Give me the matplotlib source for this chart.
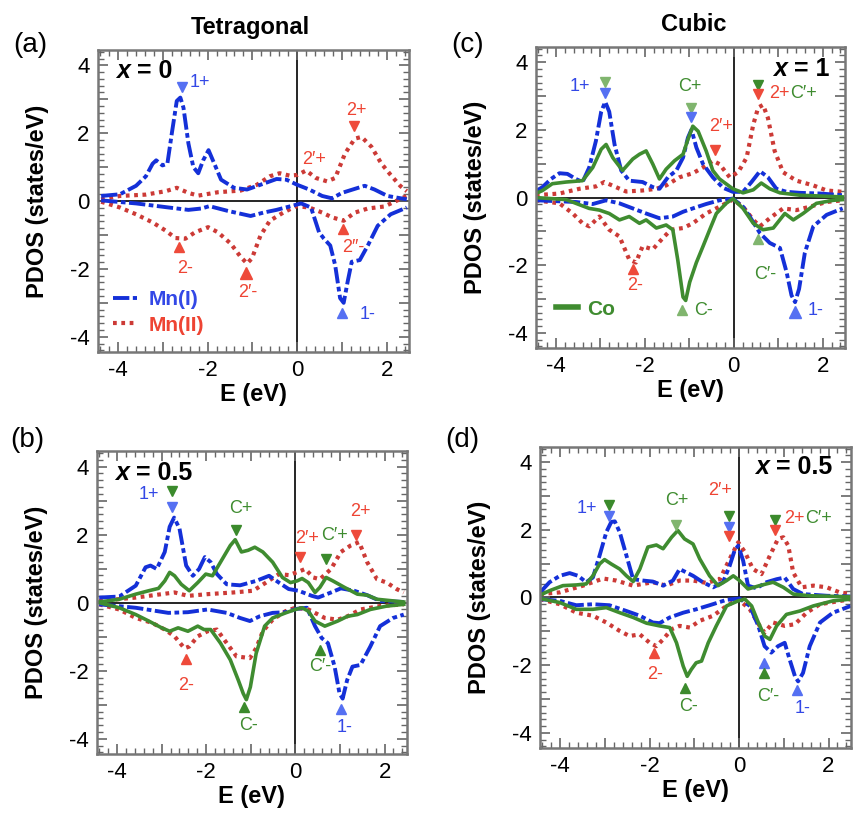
import numpy as np
import matplotlib.pyplot as plt
from matplotlib.lines import Line2D
from matplotlib.ticker import MultipleLocator, FuncFormatter

plt.rcParams['font.family'] = ['Liberation Sans', 'DejaVu Sans']
plt.rcParams['axes.unicode_minus'] = False

# ---- data: (E in eV, PDOS) ----
# panel (a) tetragonal x = 0
a_mn1_up = [(-4.38, 0.15), (-3.96, 0.2), (-3.6, 0.45), (-3.38, 0.73), (-3.23, 1.1), (-3.15, 1.2),
            (-3.01, 1.05), (-2.9, 1.1), (-2.8, 2.0), (-2.69, 2.95), (-2.61, 3.05), (-2.54, 2.75),
            (-2.43, 1.7), (-2.32, 1.0), (-2.21, 0.82), (-2.1, 1.2), (-1.98, 1.5), (-1.85, 1.1),
            (-1.7, 0.63), (-1.41, 0.39), (-1.12, 0.34), (-0.82, 0.48), (-0.46, 0.65), (-0.24, 0.63),
            (0.0, 0.48), (0.27, 0.34), (0.56, 0.15), (0.78, 0.08), (1.0, 0.24), (1.29, 0.36),
            (1.51, 0.45), (1.73, 0.34), (2.02, 0.15), (2.45, 0.05)]
a_mn1_dn = [(-4.38, 0.02), (-3.6, -0.07), (-2.87, -0.19), (-2.43, -0.26), (-2.14, -0.22), (-1.96, -0.15),
            (-1.55, -0.29), (-1.04, -0.44), (-0.75, -0.34), (-0.46, -0.26), (-0.17, -0.16), (0.09, -0.07),
            (0.31, -0.19), (0.49, -0.92), (0.6, -1.11), (0.74, -1.31), (0.85, -1.89), (0.96, -2.86),
            (1.04, -3.0), (1.13, -2.37), (1.22, -1.79), (1.4, -1.74), (1.58, -1.31), (1.8, -0.73),
            (2.09, -0.39), (2.45, -0.19)]
a_mn2_up = [(-4.38, 0.05), (-3.96, 0.15), (-3.38, 0.19), (-2.94, 0.29), (-2.69, 0.39), (-2.43, 0.24),
            (-2.21, 0.16), (-1.77, 0.26), (-1.26, 0.31), (-0.9, 0.48), (-0.61, 0.73), (-0.39, 0.82),
            (-0.17, 0.75), (0.01, 0.77), (0.2, 0.9), (0.42, 0.68), (0.67, 0.58), (0.85, 0.68),
            (1.07, 1.4), (1.29, 1.84), (1.44, 1.89), (1.66, 1.6), (1.88, 1.11), (2.09, 0.77),
            (2.31, 0.44), (2.45, 0.29)]
a_mn2_dn = [(-4.38, -0.02), (-3.96, -0.19), (-3.6, -0.39), (-3.23, -0.63), (-2.94, -0.87), (-2.72, -1.09),
            (-2.5, -1.11), (-2.28, -0.92), (-1.99, -0.77), (-1.77, -0.92), (-1.48, -1.26), (-1.26, -1.65),
            (-1.12, -1.84), (-1.01, -1.69), (-0.82, -1.02), (-0.61, -0.58), (-0.31, -0.34), (-0.02, -0.15),
            (0.27, -0.19), (0.56, -0.34), (0.78, -0.48), (1.04, -0.58), (1.29, -0.34), (1.58, -0.22),
            (1.95, -0.16), (2.45, 0.15)]

# panel (b) tetragonal x = 0.5
b_mn1_up = [(-4.4, 0.15), (-3.95, 0.18), (-3.58, 0.5), (-3.36, 1.04), (-3.25, 1.09), (-3.11, 0.99),
            (-2.93, 1.49), (-2.82, 2.23), (-2.72, 2.5), (-2.6, 2.18), (-2.45, 1.09), (-2.3, 0.79),
            (-2.16, 0.99), (-2.03, 1.34), (-1.9, 1.19), (-1.76, 0.84), (-1.54, 0.54), (-1.24, 0.51),
            (-0.88, 0.64), (-0.59, 0.79), (-0.37, 0.59), (-0.15, 0.4), (0.07, 0.35), (0.37, 0.2),
            (0.51, 0.15), (0.8, 0.3), (1.02, 0.42), (1.32, 0.35), (1.61, 0.22), (1.9, 0.05),
            (2.43, 0.02)]
b_mn1_dn = [(-4.4, -0.05), (-3.58, -0.15), (-2.85, -0.3), (-2.41, -0.28), (-1.97, -0.2), (-1.54, -0.3),
            (-1.24, -0.45), (-1.02, -0.54), (-0.8, -0.4), (-0.51, -0.3), (-0.22, -0.28), (0.04, -0.18),
            (0.26, -0.15), (0.44, -0.69), (0.59, -1.04), (0.73, -1.19), (0.88, -1.88), (0.99, -2.67),
            (1.06, -2.82), (1.16, -2.28), (1.28, -1.88), (1.46, -1.83), (1.68, -1.29), (1.9, -0.69),
            (2.19, -0.45), (2.43, -0.35)]
b_mn2_up = [(-4.4, 0.05), (-3.58, 0.15), (-3.0, 0.25), (-2.71, 0.3), (-2.41, 0.2), (-1.97, 0.25),
            (-1.39, 0.3), (-0.95, 0.35), (-0.66, 0.59), (-0.37, 0.84), (-0.15, 0.81), (0.07, 0.91),
            (0.22, 0.99), (0.4, 0.74), (0.55, 0.69), (0.8, 0.99), (1.02, 1.49), (1.24, 1.68),
            (1.43, 1.78), (1.61, 1.19), (1.83, 0.69), (2.05, 0.59), (2.27, 0.4), (2.43, 0.3)]
b_mn2_dn = [(-4.4, -0.05), (-3.95, -0.2), (-3.58, -0.45), (-3.22, -0.59), (-2.93, -0.79), (-2.71, -0.99),
            (-2.49, -1.34), (-2.38, -1.29), (-2.19, -0.99), (-1.97, -0.84), (-1.76, -0.79), (-1.54, -1.19),
            (-1.32, -1.58), (-1.02, -1.63), (-0.88, -1.34), (-0.73, -0.84), (-0.51, -0.5), (-0.22, -0.25),
            (0.0, -0.15), (0.29, -0.2), (0.66, -0.45), (0.95, -0.5), (1.17, -0.4), (1.46, -0.2),
            (1.9, -0.1), (2.43, -0.05)]
b_co_up = [(-4.4, 0.02), (-3.95, 0.1), (-3.58, 0.25), (-3.29, 0.35), (-3.07, 0.42), (-2.93, 0.64),
           (-2.82, 0.89), (-2.71, 0.79), (-2.56, 0.54), (-2.38, 0.35), (-2.19, 0.59), (-2.01, 0.84),
           (-1.86, 0.79), (-1.68, 1.19), (-1.46, 1.68), (-1.35, 1.85), (-1.21, 1.49), (-1.06, 1.54),
           (-0.91, 1.63), (-0.73, 1.49), (-0.51, 1.19), (-0.29, 0.74), (-0.11, 0.59), (0.04, 0.64),
           (0.15, 0.71), (0.29, 0.59), (0.44, 0.3), (0.55, 0.45), (0.69, 0.74), (0.84, 0.64),
           (1.1, 0.45), (1.39, 0.25), (1.61, 0.22), (1.83, 0.1), (2.43, 0.02)]
b_co_dn = [(-4.4, 0.0), (-3.95, -0.15), (-3.58, -0.35), (-3.29, -0.54), (-3.0, -0.74), (-2.82, -0.84),
           (-2.63, -0.74), (-2.41, -0.84), (-2.19, -0.69), (-2.05, -0.79), (-1.9, -0.79), (-1.68, -1.19),
           (-1.46, -1.68), (-1.28, -2.28), (-1.17, -2.67), (-1.1, -2.85), (-1.01, -2.48), (-0.88, -1.49),
           (-0.69, -0.69), (-0.51, -0.45), (-0.22, -0.3), (0.0, -0.2), (0.15, -0.15), (0.29, -0.25),
           (0.44, -0.54), (0.66, -0.69), (0.95, -0.54), (1.17, -0.4), (1.39, -0.35), (1.68, -0.2),
           (2.05, -0.1), (2.43, -0.05)]

# panel (c) cubic x = 1
c_mn1_up = [(-4.45, 0.19), (-4.3, 0.31), (-4.11, 0.55), (-3.92, 0.72), (-3.74, 0.7), (-3.55, 0.55),
            (-3.4, 0.46), (-3.25, 0.89), (-3.1, 1.67), (-2.98, 2.54), (-2.89, 2.83), (-2.8, 2.54),
            (-2.68, 1.57), (-2.53, 0.8), (-2.35, 0.5), (-2.05, 0.46), (-1.82, 0.31), (-1.67, 0.26),
            (-1.48, 0.6), (-1.29, 0.8), (-1.14, 1.18), (-1.03, 1.77), (-0.95, 2.01), (-0.84, 1.48),
            (-0.69, 0.99), (-0.47, 0.6), (-0.24, 0.29), (-0.02, 0.17), (0.21, 0.17), (0.4, 0.46),
            (0.59, 0.78), (0.77, 0.6), (0.96, 0.26), (1.19, 0.17), (1.49, 0.14), (1.94, 0.12),
            (2.45, 0.07)]
c_mn1_dn = [(-4.45, -0.08), (-3.55, -0.13), (-3.17, -0.19), (-2.87, -0.08), (-2.57, -0.17), (-2.27, -0.32),
            (-1.97, -0.47), (-1.67, -0.61), (-1.37, -0.56), (-1.14, -0.42), (-0.92, -0.32), (-0.62, -0.19),
            (-0.32, -0.08), (-0.02, -0.03), (0.21, -0.27), (0.36, -0.56), (0.59, -1.05), (0.81, -1.34),
            (1.04, -1.49), (1.19, -2.21), (1.3, -2.89), (1.38, -3.09), (1.47, -2.7), (1.6, -1.63),
            (1.79, -0.85), (2.09, -0.51), (2.45, -0.32)]
c_mn2_up = [(-4.45, 0.07), (-3.92, 0.12), (-3.47, 0.26), (-3.1, 0.33), (-2.91, 0.46), (-2.65, 0.31),
            (-2.42, 0.18), (-2.05, 0.21), (-1.74, 0.26), (-1.52, 0.36), (-1.22, 0.6), (-0.92, 0.72),
            (-0.69, 0.89), (-0.47, 1.09), (-0.32, 0.99), (-0.09, 0.6), (0.1, 0.75), (0.29, 1.18),
            (0.44, 2.16), (0.55, 2.66), (0.66, 2.74), (0.77, 2.35), (0.92, 1.38), (1.11, 0.75),
            (1.41, 0.5), (1.79, 0.36), (2.09, 0.21), (2.45, 0.17)]
c_mn2_dn = [(-4.45, -0.08), (-3.92, -0.17), (-3.62, -0.47), (-3.4, -0.76), (-3.25, -0.85), (-3.02, -0.56),
            (-2.8, -0.95), (-2.57, -1.15), (-2.35, -1.83), (-2.2, -1.92), (-2.05, -1.44), (-1.82, -1.53),
            (-1.59, -1.19), (-1.41, -0.95), (-1.14, -0.9), (-0.92, -0.76), (-0.62, -0.47), (-0.32, -0.27),
            (-0.02, -0.06), (0.21, -0.27), (0.44, -0.66), (0.59, -0.85), (0.81, -0.61), (1.11, -0.32),
            (1.41, -0.37), (1.71, -0.27), (2.09, -0.13), (2.45, -0.08)]
c_co_up = [(-4.45, 0.12), (-4.3, 0.21), (-4.08, 0.41), (-3.77, 0.46), (-3.4, 0.5), (-3.17, 0.89),
           (-2.98, 1.43), (-2.87, 1.57), (-2.72, 1.18), (-2.5, 0.8), (-2.27, 1.14), (-2.12, 1.28),
           (-1.97, 1.38), (-1.82, 0.99), (-1.67, 0.55), (-1.52, 0.84), (-1.33, 1.09), (-1.14, 1.28),
           (-1.03, 1.72), (-0.92, 2.11), (-0.8, 1.96), (-0.62, 1.38), (-0.47, 0.8), (-0.32, 0.55),
           (-0.02, 0.26), (0.21, 0.14), (0.44, 0.23), (0.62, 0.43), (0.81, 0.26), (1.04, 0.14),
           (1.49, 0.07), (2.45, 0.02)]
c_co_dn = [(-4.45, 0.0), (-3.77, -0.06), (-3.55, -0.17), (-3.25, -0.32), (-3.02, -0.37), (-2.8, -0.47),
           (-2.57, -0.66), (-2.35, -0.56), (-2.12, -0.76), (-1.97, -0.66), (-1.74, -0.9), (-1.52, -0.81),
           (-1.37, -0.95), (-1.26, -1.83), (-1.14, -2.94), (-1.08, -3.04), (-0.99, -2.5), (-0.84, -1.92),
           (-0.69, -1.44), (-0.54, -0.95), (-0.39, -0.47), (-0.17, -0.17), (-0.02, -0.03), (0.21, -0.32),
           (0.44, -0.76), (0.66, -0.95), (0.89, -0.9), (1.15, -0.47), (1.34, -0.66), (1.56, -0.47),
           (1.86, -0.17), (2.24, -0.08), (2.45, -0.06)]

# panel (d) cubic x = 0.5
d_mn1_up = [(-4.45, 0.15), (-4.24, 0.45), (-4.01, 0.64), (-3.79, 0.72), (-3.6, 0.64), (-3.42, 0.45),
            (-3.27, 0.59), (-3.12, 1.24), (-2.97, 1.93), (-2.86, 2.23), (-2.78, 2.25), (-2.67, 1.93),
            (-2.52, 1.24), (-2.37, 0.54), (-2.15, 0.5), (-1.93, 0.47), (-1.7, 0.35), (-1.48, 0.5),
            (-1.33, 0.84), (-1.18, 0.74), (-1.03, 0.64), (-0.81, 0.45), (-0.58, 0.3), (-0.36, 0.45),
            (-0.21, 0.94), (-0.1, 1.39), (-0.02, 1.53), (0.09, 1.09), (0.2, 0.35), (0.39, 0.27),
            (0.61, 0.45), (0.84, 0.54), (1.02, 0.59), (1.21, 0.25), (1.43, 0.1), (1.96, 0.05),
            (2.5, 0.03)]
d_mn1_dn = [(-4.45, -0.05), (-4.01, -0.1), (-3.64, -0.23), (-3.27, -0.2), (-2.9, -0.23), (-2.52, -0.4),
            (-2.22, -0.54), (-1.93, -0.74), (-1.78, -0.76), (-1.55, -0.59), (-1.25, -0.45), (-0.96, -0.35),
            (-0.66, -0.23), (-0.28, -0.07), (0.01, -0.03), (0.24, -0.25), (0.43, -0.84), (0.57, -1.44),
            (0.72, -1.63), (0.87, -1.44), (1.02, -1.34), (1.13, -1.83), (1.25, -2.33), (1.32, -2.48),
            (1.43, -2.23), (1.58, -1.44), (1.81, -0.74), (2.1, -0.45), (2.5, -0.25)]
d_mn2_up = [(-4.45, 0.1), (-4.01, 0.15), (-3.49, 0.35), (-3.04, 0.56), (-2.75, 0.5), (-2.37, 0.35),
            (-1.93, 0.45), (-1.63, 0.35), (-1.33, 0.5), (-1.03, 0.5), (-0.73, 0.43), (-0.43, 0.54),
            (-0.21, 1.14), (-0.02, 1.63), (0.13, 1.34), (0.31, 0.84), (0.5, 0.69), (0.69, 1.24),
            (0.87, 1.73), (0.99, 1.78), (1.1, 1.53), (1.21, 0.74), (1.4, 0.3), (1.66, 0.35),
            (1.96, 0.3), (2.25, 0.15), (2.5, 0.1)]
d_mn2_dn = [(-4.45, -0.05), (-4.01, -0.2), (-3.64, -0.45), (-3.27, -0.54), (-2.97, -0.74), (-2.67, -0.99),
            (-2.45, -1.14), (-2.22, -1.09), (-2.0, -1.34), (-1.85, -1.44), (-1.7, -1.24), (-1.51, -0.94),
            (-1.33, -0.84), (-1.1, -0.89), (-0.88, -0.69), (-0.58, -0.54), (-0.28, -0.25), (-0.02, -0.05),
            (0.24, -0.35), (0.46, -0.84), (0.57, -1.04), (0.76, -0.74), (1.02, -0.84), (1.25, -0.79),
            (1.51, -0.45), (1.81, -0.2), (2.5, -0.05)]
d_co_up = [(-4.45, 0.07), (-4.24, 0.2), (-3.94, 0.35), (-3.64, 0.37), (-3.42, 0.4), (-3.27, 0.64),
           (-3.12, 0.99), (-3.01, 1.12), (-2.86, 0.99), (-2.67, 0.84), (-2.52, 0.64), (-2.37, 0.47),
           (-2.22, 0.84), (-2.04, 1.49), (-1.85, 1.55), (-1.7, 1.44), (-1.51, 1.78), (-1.37, 1.98),
           (-1.22, 1.73), (-1.03, 1.58), (-0.88, 1.14), (-0.66, 0.64), (-0.47, 0.35), (-0.28, 0.5),
           (-0.13, 0.64), (0.01, 0.5), (0.2, 0.25), (0.46, 0.35), (0.76, 0.45), (0.99, 0.3),
           (1.21, 0.1), (1.58, 0.05), (2.5, 0.02)]
d_co_dn = [(-4.45, -0.03), (-4.01, -0.15), (-3.64, -0.35), (-3.27, -0.35), (-2.97, -0.3), (-2.67, -0.45),
           (-2.37, -0.59), (-2.07, -0.76), (-1.78, -0.84), (-1.55, -0.89), (-1.4, -1.34), (-1.25, -2.03),
           (-1.16, -2.33), (-1.07, -2.13), (-0.96, -1.93), (-0.84, -1.88), (-0.69, -1.34), (-0.51, -0.84),
           (-0.28, -0.25), (-0.02, -0.1), (0.13, -0.05), (0.28, -0.25), (0.43, -0.74), (0.57, -1.14),
           (0.69, -1.24), (0.84, -0.84), (1.06, -0.5), (1.36, -0.4), (1.66, -0.25), (2.1, -0.1),
           (2.5, -0.05)]

# peak markers: (E, PDOS, marker, colour key, big?)
a_marks = [(-2.58, 3.36, 'v', 'blue', 0), (1.28, 2.2, 'v', 'red', 0), (1.02, -0.82, '^', 'red', 0),
           (-2.63, -1.36, '^', 'red', 0), (-1.14, -2.13, '^', 'red', 1), (1.0, -3.29, '^', 'blue', 0)]
b_marks = [(-2.76, 3.27, 'v', 'green', 0), (-2.76, 2.82, 'v', 'blue', 0), (-1.34, 2.13, 'v', 'green', 0),
           (0.11, 1.34, 'v', 'red', 0), (0.69, 1.29, 'v', 'green', 0), (1.37, 1.98, 'v', 'red', 0),
           (-2.46, -1.66, '^', 'red', 0), (-1.15, -3.07, '^', 'green', 0), (0.56, -1.39, '^', 'green', 0),
           (1.02, -3.12, '^', 'blue', 0)]
c_marks = [(-2.89, 3.42, 'v', 'ltgreen', 0), (-2.89, 3.08, 'v', 'blue', 0), (-0.97, 2.64, 'v', 'ltgreen', 0),
           (-0.97, 2.37, 'v', 'blue', 0), (-0.41, 1.4, 'v', 'red', 0), (0.55, 3.32, 'v', 'green', 0),
           (0.55, 3.05, 'v', 'red', 0), (-2.26, -2.12, '^', 'red', 0), (-1.16, -3.33, '^', 'ltgreen', 0),
           (0.55, -1.22, '^', 'ltgreen', 0), (1.38, -3.38, '^', 'blue', 1)]
d_marks = [(-2.91, 2.72, 'v', 'green', 0), (-2.91, 2.41, 'v', 'blue', 0), (-1.4, 2.13, 'v', 'ltgreen', 0),
           (-0.23, 2.4, 'v', 'green', 0), (-0.23, 2.08, 'v', 'blue', 0), (-0.23, 1.83, 'v', 'red', 0),
           (0.8, 2.28, 'v', 'green', 0), (0.8, 1.98, 'v', 'red', 0), (-1.9, -1.63, '^', 'red', 0),
           (-1.22, -2.67, '^', 'green', 0), (0.55, -1.95, '^', 'blue', 0), (0.55, -2.23, '^', 'green', 0),
           (1.3, -2.74, '^', 'blue', 0)]

# peak labels: (E, PDOS, [(text, colour key), ...])
a_labels = [(-2.18, 3.48, [('1+', 'blue')]), (1.32, 2.68, [('2+', 'red')]), (0.38, 1.23, [('2\u2032+', 'red')]),
            (1.26, -1.36, [('2\u2033-', 'red')]), (-2.5, -1.98, [('2-', 'red')]),
            (-1.1, -2.71, [('2\u2032-', 'red')]), (1.58, -3.34, [('1-', 'blue')])]
b_labels = [(-3.29, 3.17, [('1+', 'blue')]), (-1.23, 2.77, [('C+', 'green')]), (0.26, 1.88, [('2\u2032+', 'red')]),
            (0.88, 1.98, [('C\u2032+', 'green')]), (1.46, 2.67, [('2+', 'red')]), (-2.45, -2.43, [('2-', 'red')]),
            (-1.06, -3.61, [('C-', 'green')]), (0.55, -1.88, [('C\u2032-', 'green')]),
            (1.1, -3.66, [('1-', 'blue')])]
c_labels = [(-3.47, 3.27, [('1+', 'blue')]), (-0.99, 3.27, [('C+', 'green')]), (-0.28, 2.11, [('2\u2032+', 'red')]),
            (0.8, 3.08, [('2+', 'red'), ('C\u2032+', 'green')]), (-2.23, -2.6, [('2-', 'red')]),
            (-0.69, -3.33, [('C-', 'green')]), (0.7, -2.26, [('C\u2032-', 'green')]),
            (1.83, -3.33, [('1-', 'blue')])]
d_labels = [(-3.4, 2.62, [('1+', 'blue')]), (-1.39, 2.87, [('C+', 'green')]), (-0.43, 3.17, [('2\u2032+', 'red')]),
            (1.01, 2.33, [('2+', 'red'), ('C\u2032+', 'green')]), (-1.87, -2.28, [('2-', 'red')]),
            (-1.14, -3.22, [('C-', 'green')]), (0.65, -2.92, [('C\u2032-', 'green')]),
            (1.42, -3.27, [('1-', 'blue')])]

# ---- styles ----
LINE_BLUE = '#1430d8'
LINE_RED = '#cc3a36'
LINE_GREEN = '#3f8c30'
MARK_COL = {'blue': '#5570f2', 'red': '#ee4a3a', 'green': '#3b8a2c', 'ltgreen': '#80b56e'}
TEXT_COL = {'blue': '#3348e6', 'red': '#ee4433', 'green': '#3f8c30'}

mn1_style = dict(color=LINE_BLUE, lw=2.8, dashes=(4.2, 0.9, 1.2, 0.9))
mn2_style = dict(color=LINE_RED, lw=3.0, linestyle=(0, (0.9, 1.1)))
co_style = dict(color=LINE_GREEN, lw=2.6)


def plot_curve(ax, pts, style):
    arr = np.array(pts)
    ax.plot(arr[:, 0], arr[:, 1], **style)


def even_label(v, pos):
    iv = int(round(v))
    return f'{iv}' if iv % 2 == 0 else ''


def setup_axes(ax):
    ax.set_xlim(-4.45, 2.5)
    ax.set_ylim(-4.45, 4.45)
    ax.axhline(0, color='black', lw=1.2, zorder=1)
    ax.axvline(0, color='black', lw=1.2, zorder=1)
    ax.xaxis.set_major_locator(MultipleLocator(1))
    ax.xaxis.set_minor_locator(MultipleLocator(0.2))
    ax.yaxis.set_major_locator(MultipleLocator(1))
    ax.yaxis.set_minor_locator(MultipleLocator(0.2))
    ax.xaxis.set_major_formatter(FuncFormatter(even_label))
    ax.yaxis.set_major_formatter(FuncFormatter(even_label))
    ax.tick_params(which='both', direction='in', top=True, right=True, color='#666666',
                   labelsize=16, pad=6)
    ax.tick_params(which='major', length=7, width=1.2)
    ax.tick_params(which='minor', length=4, width=1.0)
    for sp in ax.spines.values():
        sp.set_color('#777777')
        sp.set_linewidth(1.8)
    ax.set_xlabel('E (eV)', fontsize=17, fontweight='bold', labelpad=1)
    ax.set_ylabel('PDOS (states/eV)', fontsize=17, fontweight='bold', labelpad=15)


def add_marks(ax, marks):
    for e, d, m, c, big in marks:
        ax.plot(e, d, marker=m, color=MARK_COL[c], ms=9 if big else 6.5, ls='none', zorder=5)


def add_labels(ax, labels):
    for e, d, segs in labels:
        if len(segs) == 1:
            ax.text(e, d, segs[0][0], color=TEXT_COL[segs[0][1]], fontsize=13,
                    ha='center', va='center', zorder=6)
        else:
            t = ax.text(e, d, segs[0][0], color=TEXT_COL[segs[0][1]], fontsize=13,
                        ha='left', va='center', zorder=6)
            for txt, c in segs[1:]:
                t = ax.annotate(txt, xy=(1, 0.5), xycoords=t, color=TEXT_COL[c], fontsize=13,
                                ha='left', va='center', zorder=6)


def add_conc(ax, e, d, value):
    t = ax.text(e, d, 'x', fontsize=18, fontweight='bold', style='italic',
                ha='left', va='center')
    ax.annotate(' = ' + value, xy=(1, 0.5), xycoords=t, fontsize=18, fontweight='bold',
                ha='left', va='center')


fig = plt.figure(figsize=(8.56, 8.25), dpi=100)
ax_a = fig.add_axes([0.1145, 0.5733, 0.3633, 0.366])
ax_b = fig.add_axes([0.1133, 0.086, 0.362, 0.367])
ax_c = fig.add_axes([0.626, 0.578, 0.361, 0.365])
ax_d = fig.add_axes([0.631, 0.0933, 0.363, 0.365])

panels = [
    (ax_a, [a_mn2_up, a_mn2_dn], [a_mn1_up, a_mn1_dn], [], a_marks, a_labels),
    (ax_b, [b_mn2_up, b_mn2_dn], [b_mn1_up, b_mn1_dn], [b_co_up, b_co_dn], b_marks, b_labels),
    (ax_c, [c_mn2_up, c_mn2_dn], [c_mn1_up, c_mn1_dn], [c_co_up, c_co_dn], c_marks, c_labels),
    (ax_d, [d_mn2_up, d_mn2_dn], [d_mn1_up, d_mn1_dn], [d_co_up, d_co_dn], d_marks, d_labels),
]
for ax, mn2, mn1, co, marks, labels in panels:
    setup_axes(ax)
    for pts in mn2:
        plot_curve(ax, pts, mn2_style)
    for pts in mn1:
        plot_curve(ax, pts, mn1_style)
    for pts in co:
        plot_curve(ax, pts, co_style)
    add_marks(ax, marks)
    add_labels(ax, labels)

add_conc(ax_a, -4.05, 3.82, '0')
add_conc(ax_b, -4.05, 3.81, '0.5')
add_conc(ax_c, 0.88, 3.81, '1')
add_conc(ax_d, 0.35, 3.86, '0.5')

# legends
h1 = Line2D([], [], **mn1_style)
h2 = Line2D([], [], **mn2_style)
leg = ax_a.legend([h1, h2], ['Mn(I)', 'Mn(II)'], loc='lower left', bbox_to_anchor=(0.022, 0.03),
                  borderaxespad=0, frameon=False, prop={'weight': 'bold', 'size': 15},
                  handlelength=1.15, handletextpad=0.55, labelspacing=0.3)
for txt, c in zip(leg.get_texts(), [TEXT_COL['blue'], TEXT_COL['red']]):
    txt.set_color(c)
hc = Line2D([], [], color=LINE_GREEN, lw=4)
leg = ax_c.legend([hc], ['Co'], loc='lower left', bbox_to_anchor=(0.039, 0.07), borderaxespad=0,
                  frameon=False, prop={'weight': 'bold', 'size': 15}, handlelength=1.06,
                  handletextpad=0.43)
leg.get_texts()[0].set_color(LINE_GREEN)

fig.text(0.292, 0.967, 'Tetragonal', fontsize=17, fontweight='bold', ha='center', va='center')
fig.text(0.81, 0.97, 'Cubic', fontsize=17, fontweight='bold', ha='center', va='center')
fig.text(0.015, 0.945, '(a)', fontsize=20, va='center')
fig.text(0.527, 0.945, '(c)', fontsize=20, va='center')
fig.text(0.012, 0.467, '(b)', fontsize=20, va='center')
fig.text(0.52, 0.467, '(d)', fontsize=20, va='center')

fig.savefig('out.png', dpi=100)
